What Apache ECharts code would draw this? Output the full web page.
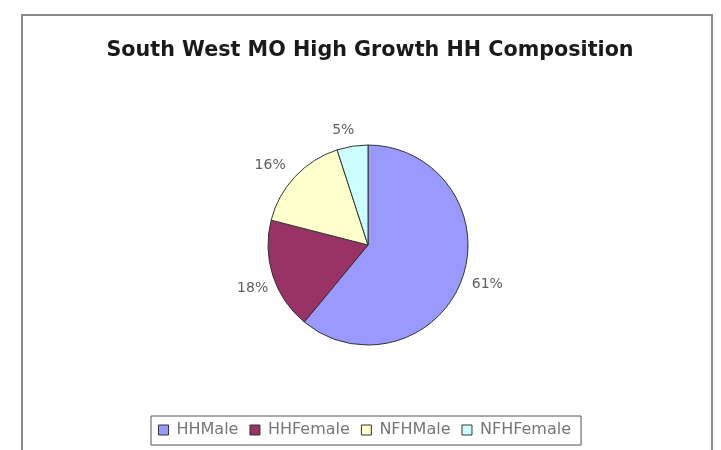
<!DOCTYPE html>
<html>
<head>
<meta charset="utf-8">
<script src="https://cdn.jsdelivr.net/npm/echarts@6/dist/echarts.min.js"></script>
<style>
  html, body { margin: 0; padding: 0; background: #fff; }
  #chart { width: 721px; height: 450px; }
</style>
</head>
<body>
<div id="chart"></div>
<script>
// Household composition shares (percent)
const categories = ['HHMale', 'HHFemale', 'NFHMale', 'NFHFemale'];
const shares = [61, 18, 16, 5];
const colors = ['#9999FF', '#993366', '#FFFFCC', '#CCFFFF'];

// Small nudges for the outside percentage labels, per slice
const labelNudge = [[-1, 3], [6, 11], [0, -7], [8, -10]];

const FONT = 'DejaVu Sans, Verdana, sans-serif';
const chart = echarts.init(document.getElementById('chart'));

const pieData = categories.map((name, i) => ({
  name: name,
  value: shares[i],
  itemStyle: { color: colors[i] }
}));

chart.setOption({
  animation: false,
  backgroundColor: '#fff',
  graphic: [{
    type: 'rect',
    shape: { x: 22, y: 15, width: 690, height: 460 },
    style: { fill: 'none', stroke: '#8a8a8a', lineWidth: 2 },
    z: -1
  }],
  title: {
    text: 'South West MO High Growth HH Composition',
    left: 365,
    top: 35,
    textAlign: 'center',
    textStyle: {
      fontFamily: FONT,
      fontWeight: 'bold',
      fontSize: 20.7,
      color: '#1a1a1a'
    }
  },
  legend: {
    data: categories,
    left: 151,
    top: 416,
    orient: 'horizontal',
    padding: [6, 10, 7, 7],
    borderColor: '#555',
    borderWidth: 1,
    itemWidth: 10,
    itemHeight: 10,
    itemGap: 11,
    icon: 'rect',
    itemStyle: { borderColor: '#333', borderWidth: 1 },
    textStyle: {
      fontFamily: FONT,
      fontSize: 16,
      color: '#777',
      padding: [0, 0, 0, 3]
    }
  },
  series: [{
    type: 'pie',
    center: [368, 245],
    radius: 100,
    startAngle: 90,
    clockwise: true,
    data: pieData,
    itemStyle: { borderColor: '#333', borderWidth: 1 },
    label: {
      show: true,
      position: 'outside',
      formatter: '{c}%',
      fontFamily: FONT,
      fontSize: 14,
      color: '#5e5e5e'
    },
    labelLine: { show: false, length: 6, length2: 0 },
    labelLayout: function (params) {
      const n = labelNudge[params.dataIndex] || [0, 0];
      return { dx: n[0], dy: n[1] };
    },
    emphasis: { disabled: true }
  }]
});
</script>
</body>
</html>
